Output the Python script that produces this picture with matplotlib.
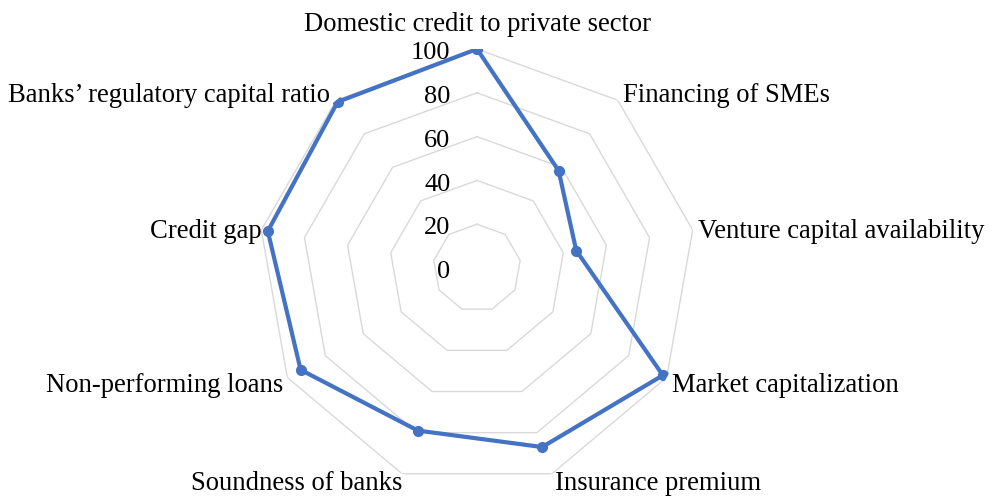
import numpy as np
import matplotlib
matplotlib.use("Agg")
import matplotlib.pyplot as plt

categories = ["Domestic credit to private sector", "Financing of SMEs",
              "Venture capital availability", "Market capitalization",
              "Insurance premium", "Soundness of banks", "Non-performing loans",
              "Credit gap", "Banks\u2019 regulatory capital ratio"]
values = [100, 58, 46, 98, 87, 79, 93, 97, 99]
ticks = [0, 20, 40, 60, 80, 100]

W, H = 992, 497
fig = plt.figure(figsize=(W / 100, H / 100), dpi=100)
cx, cy, R = 477, 268, 219
ax = fig.add_axes([(cx - R) / W, (H - cy - R) / H, 2 * R / W, 2 * R / H],
                  projection="polar")
ax.set_theta_offset(np.pi / 2)
ax.set_theta_direction(-1)
ax.set_ylim(0, 100)
ax.grid(False)
ax.spines["polar"].set_visible(False)
ax.set_xticks([])
ax.set_yticks([])
ax.patch.set_alpha(0)

n = len(categories)
theta = np.linspace(0, 2 * np.pi, n, endpoint=False)
theta_c = np.append(theta, theta[0])

for t in ticks[1:]:
    ax.plot(theta_c, [t] * (n + 1), color="#D9D9D9", lw=1.0, zorder=1)

vals_c = np.append(values, values[0])
ax.plot(theta_c, vals_c, color="#4472C4", lw=3.0, marker="o", ms=7,
        zorder=3, solid_joinstyle="round")

font = "Liberation Serif"
for t in ticks:
    ax.annotate(str(t), xy=(0, t), xytext=(-19, -3), textcoords="offset points",
                ha="right", va="center", fontsize=19, family=font, color="#000000")

# category labels (pixel positions: x, baseline y, ha)
label_pos = [(477.5, 31, "center"), (623, 102, "left"), (698, 238, "left"),
             (672, 392, "left"), (555, 490, "left"), (402, 490, "right"),
             (283, 392, "right"), (262, 238, "right"), (330, 102, "right")]
for lab, (x, y, ha) in zip(categories, label_pos):
    fig.text(x / W, 1 - y / H, lab, ha=ha, va="baseline", fontsize=19.2,
             family=font, color="#000000")

fig.savefig("out.png", dpi=100, facecolor="white")
